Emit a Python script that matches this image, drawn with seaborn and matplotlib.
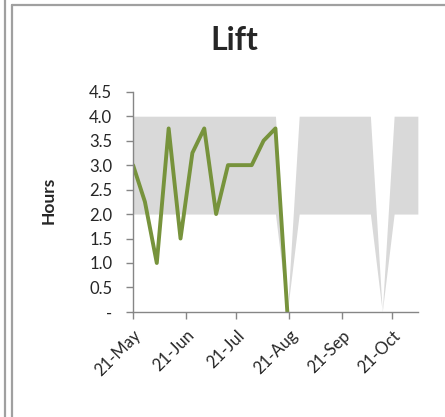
import pandas as pd
import numpy as np
import matplotlib.pyplot as plt
import matplotlib.dates as mdates
from matplotlib.lines import Line2D
import seaborn as sns

sns.set_style("white")
plt.rcParams["font.family"] = ["Lato", "DejaVu Sans"]

# 목표 범위 (회색 밴드) - 주간 데이터
band_start = "2013-05-21"
band_upper = [4, 4, 4, 4, 4, 4, 4, 4, 4, 4, 4, 4, 4, 0,
              4, 4, 4, 4, 4, 4, 4, 0, 4, 4, 4]
band_lower = [2, 2, 2, 2, 2, 2, 2, 2, 2, 2, 2, 2, 2, 0,
              2, 2, 2, 2, 2, 2, 2, 0, 2, 2, 2]

# 실제 Lift 시간
lift_hours = [3.0, 2.25, 1.0, 3.75, 1.5, 3.25, 3.75, 2.0, 3.0, 3.0, 3.0, 3.5, 3.75, 0.0]

y_ticks = [0, 0.5, 1.0, 1.5, 2.0, 2.5, 3.0, 3.5, 4.0, 4.5]
y_labels = ["-", "0.5", "1.0", "1.5", "2.0", "2.5", "3.0", "3.5", "4.0", "4.5"]
x_ticks = ["2013-05-21", "2013-06-21", "2013-07-21", "2013-08-21", "2013-09-21", "2013-10-21"]

band_dates = pd.date_range(band_start, periods=len(band_upper), freq="7D")
df = pd.DataFrame({"date": band_dates[:len(lift_hours)], "hours": lift_hours})

fig = plt.figure(figsize=(4.45, 4.17), dpi=100)
ax = fig.add_axes([0.299, 0.252, 0.640, 0.528])

ax.fill_between(band_dates, band_lower, band_upper, color="#D9D9D9", linewidth=0)
sns.lineplot(data=df, x="date", y="hours", ax=ax, color="#77933C", linewidth=2.8)

ax.set_xlim(band_dates[0], band_dates[-1])
ax.set_ylim(0, 4.5)
ax.set_yticks(y_ticks)
ax.set_yticklabels(y_labels, fontsize=12)
ax.set_xticks(pd.to_datetime(x_ticks))
ax.xaxis.set_major_formatter(mdates.DateFormatter("%d-%b"))
plt.setp(ax.get_xticklabels(), rotation=45, ha="right", rotation_mode="anchor", fontsize=12)

for side in ["top", "right"]:
    ax.spines[side].set_visible(False)
for side in ["left", "bottom"]:
    ax.spines[side].set_color("#868686")
    ax.spines[side].set_linewidth(1.0)
ax.tick_params(axis="both", which="both", length=5, width=1, color="#868686", direction="out",
               left=True, bottom=True)
ax.tick_params(axis="y", pad=10)
ax.tick_params(axis="x", pad=6)

ax.set_xlabel("")
ax.set_ylabel("Hours", fontsize=12.5, fontweight="bold")
ax.yaxis.set_label_coords(-0.268, 0.505)
fig.text(0.527, 0.904, "Lift", ha="center", va="center", fontsize=23, fontweight="bold")

# 엑셀 차트 테두리
fig.add_artist(Line2D([4.5 / 445, 4.5 / 445], [0, 1], color="#A0A0A0", linewidth=1.6))
fig.add_artist(Line2D([11.5 / 445, 11.5 / 445], [0, 1 - 4.5 / 417], color="#A0A0A0", linewidth=1.6))
fig.add_artist(Line2D([11.5 / 445, 1], [1 - 4.5 / 417, 1 - 4.5 / 417], color="#A0A0A0", linewidth=1.6))

fig.savefig("out.png", dpi=100)
